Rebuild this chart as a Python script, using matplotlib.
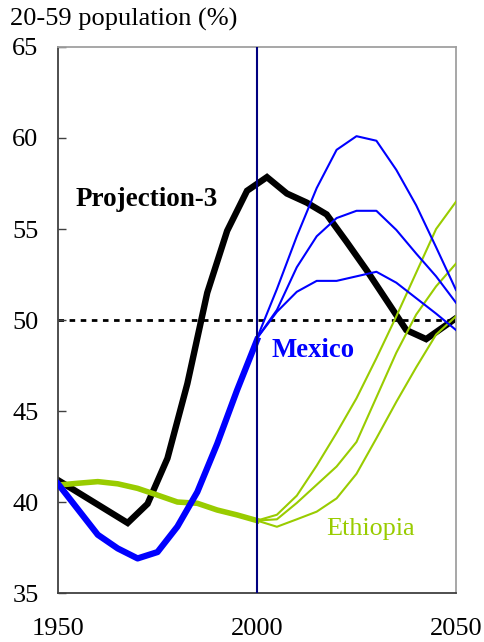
import matplotlib.pyplot as plt

plt.rcParams['font.family'] = ['Liberation Serif', 'DejaVu Serif']

years = [1950, 1955, 1960, 1965, 1970, 1975, 1980, 1985, 1990, 1995, 2000]
proj_years = [2000, 2005, 2010, 2015, 2020, 2025, 2030, 2035, 2040, 2045, 2050]

# black "Projection-3" curve (shifted time points)
p3_years = [1950, 1967.5, 1972.5, 1977.5, 1982.5, 1987.5, 1992.5, 1997.5,
            2002.5, 2007.5, 2012.5, 2017.5, 2022.5, 2027.5, 2032.5, 2037.5,
            2042.5, 2050]
p3_vals = [41.2, 38.85, 39.9, 42.4, 46.5, 51.5, 54.9, 57.1,
           57.85, 56.95, 56.45, 55.8, 54.3, 52.75, 51.1, 49.45,
           48.95, 50.1]

mexico = [41.0, 39.6, 38.2, 37.45, 36.9, 37.25, 38.65, 40.55, 43.2, 46.15, 48.9]
mexico_high = [49.0, 51.7, 54.6, 57.25, 59.35, 60.1, 59.85, 58.25, 56.3, 54.0, 51.65]
mexico_mid = [49.0, 50.55, 52.9, 54.6, 55.6, 56.0, 56.0, 54.95, 53.65, 52.4, 50.95]
mexico_low = [49.0, 50.45, 51.55, 52.15, 52.15, 52.4, 52.65, 52.05, 51.2, 50.35, 49.45]

ethiopia = [40.93, 41.03, 41.12, 41.0, 40.75, 40.38, 40.0, 39.93, 39.56, 39.29, 38.98]
ethiopia_high = [38.98, 39.3, 40.35, 42.0, 43.8, 45.7, 47.9, 50.2, 52.6, 55.0, 56.5]
ethiopia_mid = [38.98, 39.05, 39.95, 40.95, 41.95, 43.3, 45.75, 48.2, 50.3, 51.85, 53.1]
ethiopia_low = [38.98, 38.64, 39.05, 39.47, 40.2, 41.55, 43.5, 45.5, 47.4, 49.2, 50.2]

green = '#99cc00'
blue = '#0000ff'

fig = plt.figure(figsize=(4.85, 6.42), dpi=100)
ax = fig.add_axes([0.1196, 0.0763, 0.8206, 0.8505])

ax.axhline(50, color='black', lw=2.0, ls=(0, (2.0, 2.0)), zorder=1)

ax.plot(p3_years, p3_vals, color='black', lw=4.6, solid_joinstyle='miter', zorder=2)
ax.plot(years, ethiopia, color=green, lw=4.0, zorder=3)
for s in [ethiopia_high, ethiopia_mid, ethiopia_low]:
    ax.plot(proj_years, s, color=green, lw=1.5, zorder=3)
ax.plot(years, mexico, color=blue, lw=4.5, zorder=4)
for s in [mexico_high, mexico_mid, mexico_low]:
    ax.plot(proj_years, s, color=blue, lw=1.5, zorder=4)

ax.axvline(2000, color='#000080', lw=1.5, zorder=5)

ax.set_xlim(1950, 2050)
ax.set_ylim(35, 65)
ax.set_xticks([1950, 2000, 2050])
ax.set_yticks([35, 40, 45, 50, 55, 60, 65])
ax.tick_params(axis='y', direction='in', length=6, width=1, color='#404040',
               labelsize=19, pad=14)
ax.tick_params(axis='x', length=0, labelsize=19, pad=18)

for side in ['left', 'bottom']:
    ax.spines[side].set_color('#404040')
    ax.spines[side].set_linewidth(1.3)
for side in ['top', 'right']:
    ax.spines[side].set_color('#a0a0a0')
    ax.spines[side].set_linewidth(1.3)

ax.text(1954.5, 56.6, 'Projection-3', fontsize=19.5, fontweight='bold',
        color='black', va='center', ha='left')
ax.text(2003.7, 48.35, 'Mexico', fontsize=19.3, fontweight='bold',
        color=blue, va='center', ha='left')
ax.text(2017.3, 38.5, 'Ethiopia', fontsize=18.8, color=green,
        va='center', ha='left')

fig.text(10 / 485, 1 - 19 / 642, '20-59 population (%)', fontsize=19,
         va='center', ha='left')

fig.savefig('out.png', dpi=100)
